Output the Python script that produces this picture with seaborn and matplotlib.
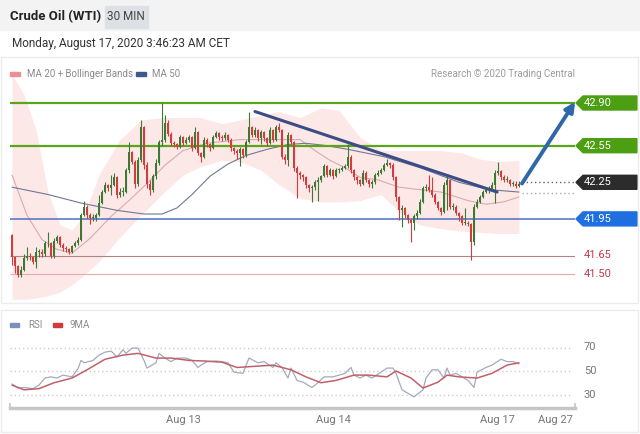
import numpy as np
import pandas as pd
import seaborn as sns
import matplotlib.pyplot as plt
from matplotlib.patches import Rectangle, Polygon
from matplotlib.transforms import blended_transform_factory

# ---- data (30 min candles, Aug 12 -> Aug 17 03:30) ----
first_open = 41.82
closes = [41.64, 41.56, 41.49, 41.53, 41.63, 41.65, 41.64, 41.60, 41.68, 41.68,
          41.66, 41.75, 41.75, 41.65, 41.77, 41.80, 41.74, 41.71, 41.70, 41.68,
          41.73, 41.75, 41.78, 41.98, 42.05, 41.98, 41.96, 41.96, 41.98, 42.08,
          42.17, 42.23, 42.20, 42.23, 42.29, 42.15, 42.17, 42.17, 42.35, 42.50,
          42.42, 42.24, 42.43, 42.70, 42.39, 42.24, 42.19, 42.30, 42.41, 42.58,
          42.60, 42.74, 42.65, 42.57, 42.56, 42.54, 42.62, 42.57, 42.60, 42.62,
          42.53, 42.66, 42.49, 42.46, 42.60, 42.56, 42.53, 42.62, 42.65, 42.62,
          42.61, 42.64, 42.60, 42.53, 42.51, 42.49, 42.52, 42.47, 42.58, 42.70,
          42.64, 42.68, 42.61, 42.66, 42.61, 42.57, 42.68, 42.60, 42.70, 42.68,
          42.46, 42.43, 42.64, 42.58, 42.37, 42.33, 42.31, 42.29, 42.23, 42.20,
          42.21, 42.25, 42.27, 42.30, 42.38, 42.31, 42.35, 42.30, 42.35, 42.35,
          42.37, 42.38, 42.46, 42.35, 42.29, 42.27, 42.24, 42.33, 42.27, 42.24,
          42.25, 42.31, 42.33, 42.35, 42.39, 42.41, 42.39, 42.29, 42.13, 42.02,
          42.04, 41.98, 41.94, 41.92, 41.97, 42.00, 42.09, 42.20, 42.21, 42.19,
          42.15, 42.09, 42.04, 42.01, 42.23, 42.27, 42.05, 42.05, 42.00, 41.97,
          41.92, 41.92, 41.91, 41.76, 42.05, 42.09, 42.13, 42.17, 42.19, 42.19,
          42.23, 42.33, 42.34, 42.29, 42.27, 42.27, 42.24, 42.24, 42.22, 42.24]
highs = [41.83, 41.64, 41.57, 41.56, 41.66, 41.72, 41.67, 41.65, 41.72, 41.70,
         41.70, 41.77, 41.84, 41.76, 41.79, 41.82, 41.81, 41.75, 41.73, 41.71,
         41.74, 41.77, 41.80, 42.00, 42.10, 42.06, 42.00, 41.99, 42.00, 42.15,
         42.19, 42.25, 42.24, 42.31, 42.33, 42.30, 42.20, 42.21, 42.37, 42.58,
         42.51, 42.43, 42.46, 42.76, 42.71, 42.42, 42.27, 42.32, 42.44, 42.60,
         42.90, 42.80, 42.76, 42.66, 42.59, 42.57, 42.64, 42.63, 42.62, 42.64,
         42.63, 42.70, 42.67, 42.50, 42.62, 42.61, 42.57, 42.64, 42.67, 42.66,
         42.64, 42.66, 42.65, 42.61, 42.54, 42.52, 42.54, 42.53, 42.60, 42.83,
         42.71, 42.70, 42.69, 42.68, 42.67, 42.62, 42.70, 42.69, 42.72, 42.74,
         42.69, 42.48, 42.66, 42.65, 42.59, 42.38, 42.34, 42.32, 42.30, 42.24,
         42.23, 42.27, 42.29, 42.31, 42.40, 42.39, 42.37, 42.36, 42.37, 42.37,
         42.38, 42.40, 42.56, 42.47, 42.36, 42.30, 42.28, 42.35, 42.34, 42.28,
         42.27, 42.33, 42.35, 42.37, 42.41, 42.44, 42.42, 42.41, 42.30, 42.14,
         42.06, 42.05, 41.99, 41.95, 41.99, 42.02, 42.11, 42.22, 42.24, 42.31,
         42.29, 42.16, 42.10, 42.05, 42.25, 42.30, 42.28, 42.08, 42.06, 42.01,
         41.98, 42.04, 41.93, 41.92, 42.07, 42.11, 42.15, 42.19, 42.21, 42.22,
         42.25, 42.35, 42.42, 42.35, 42.31, 42.30, 42.28, 42.26, 42.26, 42.26]
lows = [41.57, 41.51, 41.47, 41.47, 41.52, 41.61, 41.61, 41.58, 41.55, 41.64,
        41.64, 41.65, 41.72, 41.63, 41.63, 41.75, 41.72, 41.69, 41.68, 41.66,
        41.67, 41.72, 41.74, 41.77, 41.97, 41.96, 41.91, 41.93, 41.93, 41.97,
        42.07, 42.16, 42.18, 42.15, 42.22, 42.12, 42.13, 42.14, 42.16, 42.33,
        42.40, 42.20, 42.22, 42.42, 42.36, 42.20, 42.15, 42.17, 42.28, 42.39,
        42.55, 42.58, 42.63, 42.55, 42.54, 42.52, 42.53, 42.55, 42.56, 42.58,
        42.51, 42.52, 42.47, 42.42, 42.45, 42.54, 42.51, 42.52, 42.61, 42.60,
        42.59, 42.60, 42.58, 42.51, 42.48, 42.44, 42.38, 42.45, 42.46, 42.57,
        42.62, 42.62, 42.59, 42.56, 42.59, 42.55, 42.56, 42.58, 42.59, 42.66,
        42.44, 42.40, 42.38, 42.56, 42.34, 42.12, 42.28, 42.26, 42.20, 42.17,
        42.09, 42.19, 42.10, 42.25, 42.29, 42.29, 42.30, 42.28, 42.29, 42.33,
        42.34, 42.36, 42.37, 42.33, 42.27, 42.24, 42.22, 42.23, 42.25, 42.21,
        42.20, 42.24, 42.30, 42.32, 42.34, 42.38, 42.37, 42.27, 42.10, 41.94,
        41.88, 41.96, 41.92, 41.76, 41.86, 41.95, 41.99, 42.08, 42.18, 42.17,
        42.13, 42.07, 42.02, 41.98, 42.00, 42.02, 42.03, 42.02, 41.98, 41.93,
        41.90, 41.90, 41.89, 41.61, 41.74, 42.04, 42.08, 42.12, 42.16, 42.16,
        42.18, 42.08, 42.31, 42.27, 42.25, 42.25, 42.22, 42.22, 42.20, 42.21]

# indicators (candle index -> value)
ma50_idx = [0, 12, 23, 35, 44, 50, 55, 60, 66, 72, 78, 85, 92, 98, 105, 112, 124, 136, 149, 159, 169]
ma50 = [42.21, 42.15, 42.08, 42.02, 41.99, 41.99, 42.04, 42.15, 42.30, 42.40, 42.47,
        42.52, 42.56, 42.57, 42.55, 42.52, 42.46, 42.37, 42.25, 42.19, 42.17]
ma20_idx = [0, 5, 10, 15, 20, 26, 33, 39, 45, 51, 57, 65, 76, 86, 96, 101, 106, 111,
            116, 122, 129, 136, 143, 152, 158, 164, 169]
ma20 = [42.31, 41.98, 41.78, 41.70, 41.67, 41.79, 41.97, 42.10, 42.24, 42.39, 42.51,
        42.57, 42.60, 42.60, 42.60, 42.51, 42.43, 42.37, 42.29, 42.27, 42.21, 42.19,
        42.17, 42.10, 42.07, 42.09, 42.13]
bb_idx = [0, 4, 8, 12, 16, 20, 24, 29, 36, 43, 50, 57, 63, 70, 76, 83, 89, 96, 103,
          109, 116, 123, 129, 136, 143, 150, 156, 162, 169]
bb_upper = [43.13, 42.97, 42.68, 42.17, 41.90, 41.86, 41.98, 42.31, 42.60, 42.76,
            42.78, 42.78, 42.78, 42.73, 42.76, 42.80, 42.83, 42.78, 42.86, 42.84,
            42.62, 42.51, 42.51, 42.51, 42.51, 42.49, 42.44, 42.42, 42.43]
bb_lower = [41.29, 41.29, 41.30, 41.32, 41.35, 41.41, 41.49, 41.60, 41.80, 41.98,
            42.15, 42.31, 42.38, 42.43, 42.42, 42.35, 42.23, 42.12, 42.09, 42.09,
            42.10, 42.15, 42.01, 41.90, 41.87, 41.85, 41.84, 41.83, 41.83]

rsi_idx = [0, 2, 4, 7, 9, 11, 13, 15, 17, 20, 22, 23, 24, 27, 29, 31, 33, 35, 37, 38,
           40, 42, 44, 45, 48, 49, 51, 53, 55, 58, 60, 62, 63, 65, 68, 70, 72, 74, 77,
           79, 82, 84, 87, 88, 90, 92, 93, 95, 97, 100, 102, 104, 107, 109, 111, 113,
           114, 116, 118, 120, 123, 125, 127, 128, 130, 132, 134, 137, 138, 140, 142,
           144, 145, 146, 148, 149, 152, 154, 155, 158, 160, 163, 165, 167, 169]
rsi = [39, 35.5, 36, 35, 38, 44, 45, 44, 46.5, 45, 52, 59, 57, 59, 63.5, 66, 67, 62, 68, 65,
       69.5, 69.5, 59, 52.5, 57, 65, 61, 58, 61, 61, 59, 53, 55, 58, 58.5, 58, 57, 49, 48,
       61, 57, 58, 53, 57, 53, 44, 52.5, 42, 40.5, 36, 40, 45, 45, 46.5, 48, 53,
       46.5, 44, 46.5, 44, 49, 52.5, 52.5, 48, 34, 31, 28, 34, 44, 51, 51,
       44, 52.5, 46.5, 48, 46.5, 42, 36, 49, 53, 55, 60, 58, 58, 56]
rsi_ma_idx = [0, 4, 9, 14, 20, 25, 31, 37, 42, 48, 53, 59, 64, 70, 75, 81, 87, 93, 98,
              103, 108, 114, 119, 125, 128, 133, 137, 142, 145, 149, 155, 160, 165, 169]
rsi_ma = [38, 34, 35, 40, 44, 51, 60, 63.5, 65, 61, 61, 59, 58.5, 57.5, 53, 54, 55, 51, 45,
          40, 42, 46.5, 46.5, 45, 50, 44, 35.5, 40.5, 46.5, 45, 44, 48, 55, 57]

# analyst levels and drawings
green_levels = [42.90, 42.55]
pivot = 41.95
last_price = 42.25
red_levels = [41.65, 41.50]
ma_dotted = 42.16
trend_idx = [81, 161.7]
trend_price = [42.83, 42.17]
arrow_from = (170, 42.24)
arrow_to = (187.7, 42.91)
date_ticks = ["Aug 13", "Aug 14", "Aug 17", "Aug 27"]
date_tick_px = [183, 333, 497, 555]

sns.set_style("white")
plt.rcParams['font.family'] = ['Roboto', 'DejaVu Sans']

W, H = 640, 434
fig = plt.figure(figsize=(6.4, 4.34), dpi=100)


def fx(px):
    return px / W


def fy(py):
    return 1 - py / H


def idx_at(px):   # candle spacing on screen is about 3 px
    return (px - 12) / 3


def price_at(py):
    return 42.90 - (py - 103) / 122


def rsi_at(py):
    return 50 - (py - 371) * 20 / 23.5


def ax_frac(px):
    return (px - 10) / 565


# header / cards
fig.patches.append(Rectangle((0, fy(30)), 1, 30 / H, transform=fig.transFigure,
                             color="#f3f3f3", zorder=0))
fig.patches.append(Rectangle((fx(105), fy(28)), 43 / W, 22 / H, transform=fig.transFigure,
                             color="#dde0e5", zorder=1))
fig.patches.append(Rectangle((fx(1), fy(303)), 637 / W, 246 / H, transform=fig.transFigure,
                             fill=False, ec="#ececec", lw=1))
fig.patches.append(Rectangle((fx(1), fy(432)), 637 / W, 122 / H, transform=fig.transFigure,
                             fill=False, ec="#ececec", lw=1))
fig.text(fx(10), fy(17), "Crude Oil (WTI)", fontsize=9.5, fontweight="bold", color="#222",
         va="center")
fig.text(fx(126), fy(17), "30 MIN", fontsize=8.5, color="#444", ha="center", va="center")
fig.text(fx(12), fy(43), "Monday, August 17, 2020 3:46:23 AM CET", fontsize=8.5,
         color="#333", va="center")

# legends
fig.patches.append(Rectangle((fx(10), fy(76)), 10 / W, 4 / H, transform=fig.transFigure,
                             color="#ef8f95"))
fig.text(fx(27), fy(74), "MA 20 + Bollinger Bands", fontsize=7, color="#8a8a8a", va="center")
fig.patches.append(Rectangle((fx(136), fy(76)), 10 / W, 4 / H, transform=fig.transFigure,
                             color="#3d5a8e"))
fig.text(fx(152), fy(74), "MA 50", fontsize=7, color="#8a8a8a", va="center")
fig.text(fx(575), fy(74), "Research \u00a9 2020 Trading Central", fontsize=7, color="#9a9a9a",
         ha="right", va="center")
fig.patches.append(Rectangle((fx(10), fy(327)), 9 / W, 4 / H, transform=fig.transFigure,
                             color="#7d8fbf"))
fig.text(fx(28), fy(325), "RSI", fontsize=7, color="#8a8a8a", va="center")
fig.patches.append(Rectangle((fx(53), fy(327)), 9 / W, 4 / H, transform=fig.transFigure,
                             color="#d03a3a"))
fig.text(fx(70), fy(325), "9MA", fontsize=7, color="#8a8a8a", va="center")

# ---- main price panel ----
ax = fig.add_axes([fx(10), fy(305), 565 / W, 245 / H])
ax.set_xlim(idx_at(10), idx_at(575))
ax.set_ylim(price_at(305), price_at(60))
ax.axis("off")

ax.fill_between(bb_idx, bb_lower, bb_upper, color="#fde8e8", lw=0, zorder=1)
sns.lineplot(x=ma20_idx, y=ma20, ax=ax, color="#d9abab", lw=0.8, zorder=2)
sns.lineplot(x=ma50_idx, y=ma50, ax=ax, color="#6f7893", lw=0.8, zorder=2)

ax.hlines(green_levels, idx_at(10), idx_at(575), colors="#5aa51c", lw=1.6, zorder=2)
ax.hlines(pivot, idx_at(10), idx_at(575), colors="#4f6fc4", lw=1.1, zorder=2)
ax.hlines(red_levels[0], idx_at(10), idx_at(575), colors="#b08282", lw=0.8, zorder=2)
ax.hlines(red_levels[1], idx_at(10), idx_at(575), colors="#e7a9a9", lw=0.8, zorder=2)
ax.hlines(last_price, idx_at(522), idx_at(575), colors="#666", lw=1, linestyles=(0, (1, 2)))
ax.hlines(ma_dotted, idx_at(522), idx_at(575), colors="#aaa", lw=1, linestyles=(0, (1, 2)))

df = pd.DataFrame({"close": closes, "high": highs, "low": lows})
df["open"] = [first_open] + closes[:-1]
df["idx"] = np.arange(len(df))
up = df["close"] >= df["open"]
cols = np.where(up, "#3c7a33", "#d43b3b")
ax.vlines(df["idx"], df["low"], df["high"], colors=cols, lw=0.8, zorder=3)
body = (df["close"] - df["open"]).abs().clip(lower=0.006)
ax.bar(df["idx"], body, bottom=df[["open", "close"]].min(axis=1), width=0.86,
       color=cols, lw=0, zorder=4)

sns.lineplot(x=trend_idx, y=trend_price, ax=ax, color="#3b4c86", lw=2.2, zorder=5)
ax.annotate("", xy=arrow_to, xytext=arrow_from, zorder=6, annotation_clip=False,
            arrowprops=dict(arrowstyle="-|>", color="#2f68a8", lw=2.8, mutation_scale=14,
                            shrinkA=0, shrinkB=0))

# price tags
trans = blended_transform_factory(ax.transAxes, ax.transData)
hh = 7 / 122
tags = [(green_levels[0], "#4c9e12"), (green_levels[1], "#4c9e12"),
        (last_price, "#2c2c2c"), (pivot, "#1f6fe0")]
for level, c in tags:
    pts = [(ax_frac(576), level), (ax_frac(583), level + hh), (ax_frac(637), level + hh),
           (ax_frac(637), level - hh), (ax_frac(583), level - hh)]
    ax.add_patch(Polygon(pts, closed=True, transform=trans, color=c, clip_on=False, zorder=6))
    ax.text(ax_frac(584), level, f"{level:.2f}", transform=trans, color="white", fontsize=8,
            va="center", ha="left", clip_on=False, zorder=7)
for level in red_levels:
    ax.text(ax_frac(584), level, f"{level:.2f}", transform=trans, color="#c0394a", fontsize=8,
            va="center", ha="left", clip_on=False)

# ---- RSI panel ----
rax = fig.add_axes([fx(10), fy(408), 565 / W, (408 - 335) / H])
rax.set_xlim(idx_at(10), idx_at(575))
rax.set_ylim(rsi_at(408), rsi_at(335))
for s in ["top", "left", "right"]:
    rax.spines[s].set_visible(False)
rax.spines["bottom"].set_color("#c6c6c6")
rax.spines["bottom"].set_linewidth(2.5)
rax.set_yticks([])
rax.hlines([30, 50, 70], idx_at(10), idx_at(571), colors="#cfcfcf", lw=1,
           linestyles=(0, (1, 2)))
rtrans = blended_transform_factory(rax.transAxes, rax.transData)
for v in [70, 50, 30]:
    rax.text(ax_frac(584), v, str(v), transform=rtrans, fontsize=8, color="#777",
             va="center", clip_on=False)
sns.lineplot(x=rsi_idx, y=rsi, ax=rax, color="#a3aabb", lw=0.9)
sns.lineplot(x=rsi_ma_idx, y=rsi_ma, ax=rax, color="#c2606a", lw=1.1)
rax.vlines([idx_at(10), idx_at(575)], rsi_at(408), rsi_at(403), colors="#c6c6c6", lw=1.2,
           clip_on=False)
rax.set_xticks([idx_at(p) for p in date_tick_px])
rax.set_xticklabels(date_ticks, fontsize=8, color="#777")
rax.tick_params(axis="x", length=0, pad=5)
rax.set_xlabel("")
rax.set_ylabel("")

fig.savefig("out.png", dpi=100)
